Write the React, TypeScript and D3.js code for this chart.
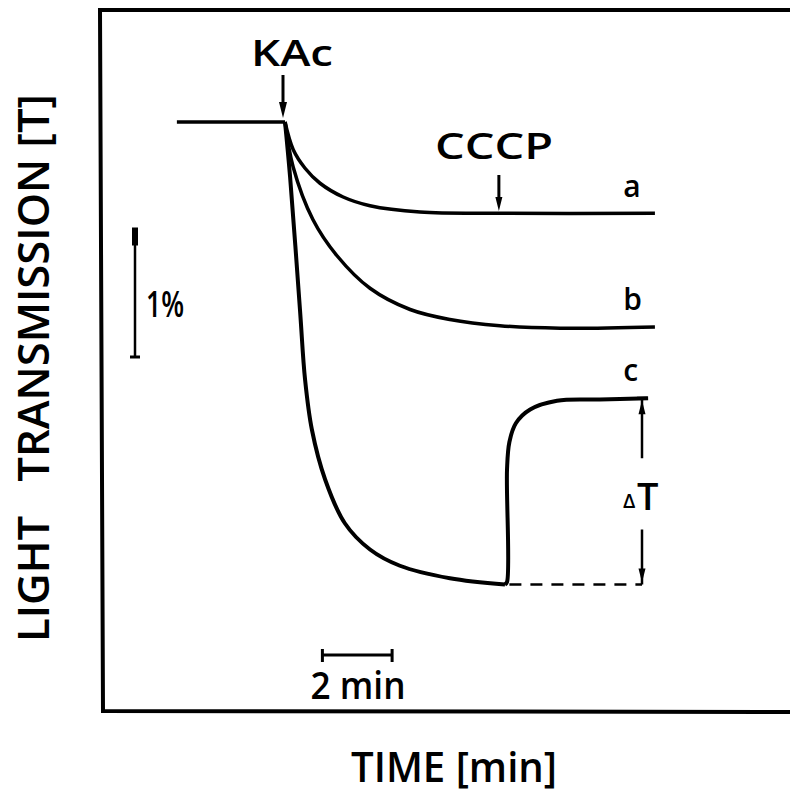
import React from "react";
import * as d3 from "d3";

// time in minutes relative to KAc addition, T in % relative to initial baseline
const baselineT = [-3.18, 0];
const curveA: [number, number][] = [
  [0, 0], [0.24, -0.22], [0.59, -0.37], [1.03, -0.49], [1.71, -0.6], [2.5, -0.67],
  [3.97, -0.72], [6.32, -0.73], [10.88, -0.73],
];
const curveB: [number, number][] = [
  [0, 0], [0.24, -0.36], [0.82, -0.78], [1.53, -1.07], [2.5, -1.33], [3.68, -1.5],
  [4.85, -1.58], [6.32, -1.63], [8.09, -1.65], [10.88, -1.64],
];
const curveCDecay: [number, number][] = [
  [0, 0], [0.15, -0.44], [0.44, -1.5], [0.59, -2.06], [0.79, -2.46], [1.18, -2.86],
  [1.76, -3.21], [2.5, -3.42], [3.38, -3.55], [4.85, -3.65], [6.47, -3.7],
];
const curveCRecovery: [number, number][] = [
  [6.47, -3.7], [6.53, -3.68], [6.53, -2.78], [6.6, -2.56], [6.79, -2.41], [7.21, -2.3],
  [8.0, -2.23], [9.26, -2.22], [10.68, -2.21],
];
const cccpTime = 6.32;
const kacTime = 0;
const deltaT = { t: 10.5, top: -2.21, bottom: -3.7 };
const dashedT = [6.6, 10.5];
const curveLabels = [
  { name: "a", t: 9.95, T: -0.6 },
  { name: "b", t: 9.95, T: -1.5 },
  { name: "c", t: 9.95, T: -2.07 },
];
const scaleBarTime = [1.1, 3.15]; // 2 min
const scaleBarT = [-0.86, -1.88]; // 1 %

export default function App() {
  const x = d3.scaleLinear().domain([0, 1]).range([285, 319]);
  const y = d3.scaleLinear().domain([0, -1]).range([122, 247]);
  const line = d3
    .line<[number, number]>()
    .x((d) => x(d[0]))
    .y((d) => y(d[1]))
    .curve(d3.curveCatmullRom.alpha(0.5));
  const lin = d3
    .line<[number, number]>()
    .x((d) => x(d[0]))
    .y((d) => y(d[1]));
  const font = "'Open Sans', 'DejaVu Sans', sans-serif";
  const sw = 3.5;
  const arrowHead = (cx: number, cy: number, dir: 1 | -1, w = 5, h = 14) =>
    `M${cx - w},${cy - dir * h} L${cx},${cy} L${cx + w},${cy - dir * h} Z`;
  const labelStyle = { fontFamily: font, fontWeight: 600 as const, fill: "#000", whiteSpace: "pre" as const };

  return (
    <svg
      width={790}
      height={797}
      style={{ position: "absolute", left: 0, top: 0, background: "#fff" }}
    >
      <rect width={790} height={797} fill="#fff" />
      {/* frame */}
      <path d="M790,10 L100,10 L103,711 L790,712" fill="none" stroke="#000" strokeWidth={4} />

      {/* baseline */}
      <path d={lin(baselineT.map((t) => [t, 0]) as [number, number][]) || ""} fill="none" stroke="#000" strokeWidth={sw} />
      {/* curves */}
      <path d={line(curveA) || ""} fill="none" stroke="#000" strokeWidth={sw} strokeLinejoin="round" />
      <path d={line(curveB) || ""} fill="none" stroke="#000" strokeWidth={sw} strokeLinejoin="round" />
      <path d={line(curveCDecay) || ""} fill="none" stroke="#000" strokeWidth={4} strokeLinejoin="round" />
      <path d={line(curveCRecovery) || ""} fill="none" stroke="#000" strokeWidth={4} strokeLinejoin="round" />

      {/* dashed baseline of c */}
      <path
        d={lin(dashedT.map((t) => [t, deltaT.bottom]) as [number, number][]) || ""}
        fill="none"
        stroke="#000"
        strokeWidth={2.5}
        strokeDasharray="12 9"
      />

      {/* delta T bar */}
      <line x1={x(deltaT.t)} x2={x(deltaT.t)} y1={y(deltaT.top)} y2={y(deltaT.top) + 60} stroke="#000" strokeWidth={2.5} />
      <line x1={x(deltaT.t)} x2={x(deltaT.t)} y1={y(deltaT.bottom) - 55} y2={y(deltaT.bottom)} stroke="#000" strokeWidth={2.5} />
      <path d={arrowHead(x(deltaT.t), y(deltaT.top) + 2, -1, 3.5, 14)} fill="#000" />
      <path d={arrowHead(x(deltaT.t), y(deltaT.bottom) - 2, 1, 3.5, 14)} fill="#000" />
      <line x1={x(deltaT.t) - 5} x2={x(deltaT.t) + 5} y1={y(deltaT.top)} y2={y(deltaT.top)} stroke="#000" strokeWidth={3} />
      <text x={x(deltaT.t) - 19} y={y(deltaT.bottom) - 77} style={labelStyle} fontSize={20} fontWeight={700}>
        Δ
      </text>
      <text x={x(deltaT.t) - 5} y={y(deltaT.bottom) - 75} style={labelStyle} fontSize={38} fontWeight={500}>
        T
      </text>

      {/* KAc arrow */}
      <line x1={x(kacTime) - 2} x2={x(kacTime) - 2} y1={75} y2={104} stroke="#000" strokeWidth={3} />
      <path d={arrowHead(x(kacTime) - 2, 118, 1, 4, 16)} fill="#000" />
      <text x={292} y={66} textAnchor="middle" style={labelStyle} fontSize={36} textLength={82} lengthAdjust="spacingAndGlyphs">
        KAc
      </text>

      {/* CCCP arrow */}
      <line x1={x(cccpTime) - 1} x2={x(cccpTime) - 1} y1={175} y2={198} stroke="#000" strokeWidth={3} />
      <path d={arrowHead(x(cccpTime) - 1, 211, 1, 3.5, 14)} fill="#000" />
      <text x={494} y={159} textAnchor="middle" style={labelStyle} fontSize={36} textLength={118} lengthAdjust="spacingAndGlyphs">
        CCCP
      </text>

      {/* curve labels */}
      {curveLabels.map((l) => (
        <text key={l.name} x={x(l.t)} y={y(l.T)} style={labelStyle} fontSize={30} fontWeight={700}>
          {l.name}
        </text>
      ))}

      {/* 1% scale bar */}
      <line x1={135} x2={135} y1={y(scaleBarT[0])} y2={y(scaleBarT[1])} stroke="#000" strokeWidth={2.5} />
      <rect x={132} y={y(scaleBarT[0]) - 2} width={6} height={18} fill="#000" />
      <line x1={130} x2={140} y1={y(scaleBarT[1])} y2={y(scaleBarT[1])} stroke="#000" strokeWidth={3} />
      <text x={146} y={317} style={labelStyle} fontSize={36} fontWeight={700} textLength={38} lengthAdjust="spacingAndGlyphs">
        1%
      </text>

      {/* 2 min scale bar */}
      <line x1={x(scaleBarTime[0])} x2={x(scaleBarTime[1])} y1={655} y2={655} stroke="#000" strokeWidth={3} />
      <line x1={x(scaleBarTime[0])} x2={x(scaleBarTime[0])} y1={649} y2={662} stroke="#000" strokeWidth={3} />
      <line x1={x(scaleBarTime[1])} x2={x(scaleBarTime[1])} y1={649} y2={662} stroke="#000" strokeWidth={3} />
      <text x={358} y={699} textAnchor="middle" style={labelStyle} fontSize={38} textLength={95} lengthAdjust="spacingAndGlyphs">
        2 min
      </text>

      {/* axis titles */}
      <text
        transform="translate(49,368) rotate(-90)"
        textAnchor="middle"
        style={labelStyle}
        fontSize={44}
        textLength={548}
        lengthAdjust="spacingAndGlyphs"
      >
        {"LIGHT   TRANSMISSION [T]"}
      </text>
      <text x={454} y={782} textAnchor="middle" style={labelStyle} fontSize={42} textLength={206} lengthAdjust="spacingAndGlyphs">
        TIME [min]
      </text>
    </svg>
  );
}
